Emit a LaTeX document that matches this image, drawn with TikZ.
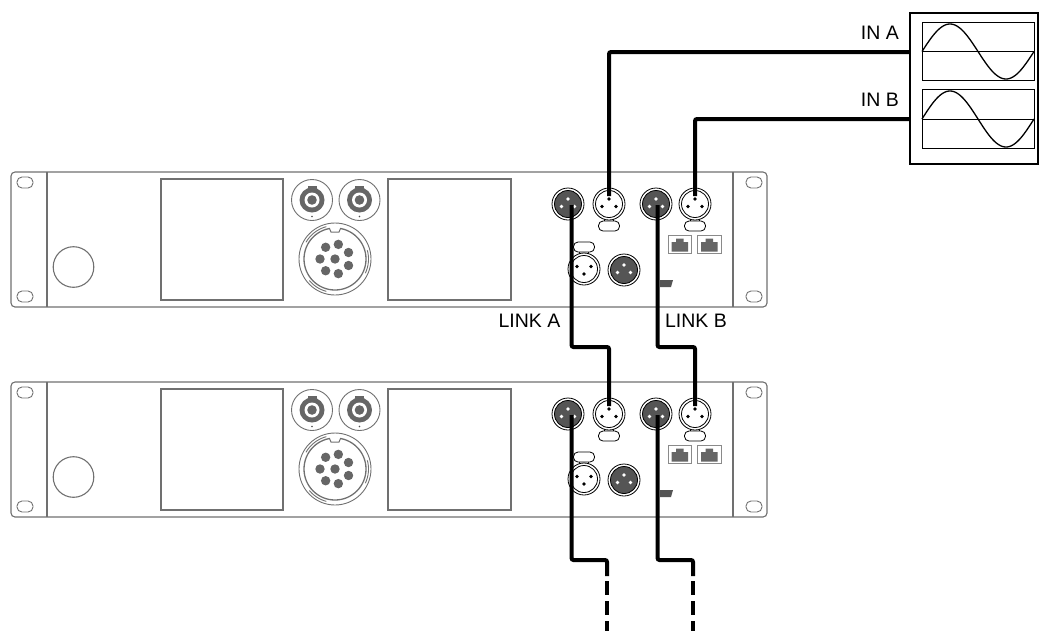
\documentclass[tikz,border=0pt]{standalone}
\usepackage{fontspec}
\setmainfont{Liberation Sans}
\definecolor{rackgray}{HTML}{707070}
\definecolor{partgray}{HTML}{666666}
\definecolor{xlrfill}{HTML}{555555}
\definecolor{rjgray}{HTML}{8A8A8A}
\begin{document}
\begin{tikzpicture}[x=1pt,y=-1pt,
  rackline/.style={draw=rackgray,line width=1.1pt},
  cable/.style={line width=4pt,rounded corners=2pt},
  lbl/.style={font=\fontsize{19.5}{19.5}\selectfont,inner sep=0pt},
  thinblk/.style={draw=black,line width=0.8pt},
  xlrdark/.pic={
    \draw[thinblk,fill=white] (0,0) circle (16);
    \draw[thinblk,fill=xlrfill] (0,0) circle (13.5);
    \fill[white] (0,-5) circle (1.9) (-6.5,2.5) circle (1.9) (6.5,2.5) circle (1.9);
  },
  xlrwhite/.pic={
    \draw[thinblk] (-4.5,12) -- (-4.5,18) (4.5,12) -- (4.5,18);
    \draw[thinblk,fill=white,rounded corners=4.5pt] (-10.5,17) rectangle (10.5,27);
    \draw[thinblk,fill=white] (0,0) circle (16);
    \draw[thinblk] (0,0) circle (13.5);
    \fill[black] (0,-5) circle (1.8) (-7,2.5) circle (1.8) (7,2.5) circle (1.8);
  },
  speakon/.pic={
    \draw[draw=rackgray,line width=0.9pt] (0,0) circle (20.5);
    \fill[partgray] (0,0) circle (12.5);
    \fill[partgray] (-4.5,-14.5) rectangle (4.5,-10);
    \fill[white] (0,0) circle (7.5);
    \fill[partgray] (0,0) circle (4.8);
    \fill[black!70] (0,16.5) circle (0.8);
  },
  rjport/.pic={
    \draw[draw=rjgray,line width=1pt,fill=white] (0,0) rectangle (23.5,18.5);
    \fill[partgray] (3.5,7) -- (8,7) -- (8,3.5) -- (15.5,3.5) -- (15.5,7) -- (20,7) -- (20,16.5) -- (3.5,16.5) -- cycle;
  },
  rack/.pic={
    \draw[rackline,rounded corners=4pt] (11,172) rectangle (767,307);
    \draw[rackline] (47,172) -- (47,307) (733,172) -- (733,307);
    \draw[rackline,line width=0.9pt,rounded corners=5pt] (17,177) rectangle (33,188);
    \draw[rackline,line width=0.9pt,rounded corners=5pt] (17,291) rectangle (33,302);
    \draw[rackline,line width=0.9pt,rounded corners=5pt] (746,177) rectangle (762,188);
    \draw[rackline,line width=0.9pt,rounded corners=5pt] (746,291) rectangle (762,302);
    \draw[rackline] (73.5,267) circle (20.3);
    \draw[rackline] (161,179) rectangle (283,300);
    \draw[rackline] (388,179) rectangle (511,300);
    \pic at (312,200) {speakon};
    \pic at (359.5,200) {speakon};
    % multipin connector
    \draw[rackline,line width=0.9pt] (335,259) circle (36);
    \draw[rackline,line width=1.3pt] (335,259) circle (31);
    \draw[rackline,line width=0.9pt] plot[domain=-105:-150,samples=12] ({335+33.5*cos(\x)},{259+33.5*sin(\x)});
    \draw[rackline,line width=0.9pt] plot[domain=-15:25,samples=12] ({335+33.5*cos(\x)},{259+33.5*sin(\x)});
    \draw[rackline,line width=0.9pt] plot[domain=105:140,samples=12] ({335+33.5*cos(\x)},{259+33.5*sin(\x)});
    \fill[white] (330,226.5) rectangle (340,230);
    \draw[rackline,line width=1pt] (329.5,228.5) -- (331,232) -- (339,232) -- (340.5,228.5);
    \foreach \a in {180,128.57,77.14,25.71,-25.71,-77.14,-128.57}
      \fill[partgray] ({335+15*cos(\a)},{259+15*sin(\a)}) circle (4.7);
    \fill[partgray] (335,259) circle (4.7);
    % XLR row
    \pic at (568,204) {xlrdark};
    \pic at (609,204) {xlrwhite};
    \pic at (656,204) {xlrdark};
    \pic at (695,204) {xlrwhite};
    \pic[rotate=180] at (584,269) {xlrwhite};
    \pic at (624,270) {xlrdark};
    \pic at (668,235) {rjport};
    \pic at (697.5,235) {rjport};
    \fill[xlrfill] (660,280) -- (673,280) -- (671,287) -- (660,287) -- cycle;
    \coordinate (-inA) at (609,196);
    \coordinate (-inB) at (695,196);
    \coordinate (-outA) at (571.5,205);
    \coordinate (-outB) at (657.5,205);
  }]
\useasboundingbox (0,0) rectangle (1040,630);

\pic (r1) at (0,0) {rack};
\pic (r2) at (0,210) {rack};

% signal generator
\node[draw,line width=2pt,minimum width=128,minimum height=151,anchor=north west,inner sep=0pt] (gen) at (909,12) {};
\node[draw,line width=1pt,minimum width=112,minimum height=58,anchor=north west,inner sep=0pt] (scrA) at (922,22) {};
\node[draw,line width=1pt,minimum width=112,minimum height=59,anchor=north west,inner sep=0pt] (scrB) at (922,89) {};
\draw[line width=0.9pt] (scrA.west |- 0,51.5) -- (scrA.east |- 0,51.5);
\draw[line width=0.9pt] (scrB.west |- 0,119) -- (scrB.east |- 0,119);
\draw[line width=1.3pt] plot[domain=0:112,samples=90,smooth] ({922+\x},{51.5-27.5*sin(\x/112*360)});
\draw[line width=1.3pt] plot[domain=0:112,samples=90,smooth] ({922+\x},{119-28*sin(\x/112*360)});

\coordinate (genA) at (909,52);
\coordinate (genB) at (909,119);
\node[lbl,anchor=east] (lblA) at (899,33) {IN A};
\node[lbl,anchor=east] (lblB) at (899,100) {IN B};

% input cables
\draw[cable] (r1-inA) |- (genA);
\draw[cable] (r1-inB) |- (genB);

% link cables
\coordinate (lnkA) at (609,347);
\coordinate (lnkB) at (695,347);
\draw[cable] (r1-outA) |- (lnkA) -- (r2-inA);
\draw[cable] (r1-outB) |- (lnkB) -- (r2-inB);
\node[lbl] (lnkAl) at (529.5,321) {LINK A};
\node[lbl] (lnkBl) at (696,321) {LINK B};

% outgoing cables
\coordinate (endA) at (607,560);
\coordinate (endB) at (693,560);
\coordinate (solA) at (607,576);
\coordinate (solB) at (693,576);
\coordinate (dshA) at (607,581);
\coordinate (dshB) at (693,581);
\coordinate (tailA) at (607,632);
\coordinate (tailB) at (693,632);
\draw[cable] (r2-outA) |- (endA) -- (solA);
\draw[cable] (r2-outB) |- (endB) -- (solB);
\draw[line width=4pt,dash pattern=on 14pt off 6pt] (dshA) -- (tailA);
\draw[line width=4pt,dash pattern=on 14pt off 6pt] (dshB) -- (tailB);
\end{tikzpicture}
\end{document}
